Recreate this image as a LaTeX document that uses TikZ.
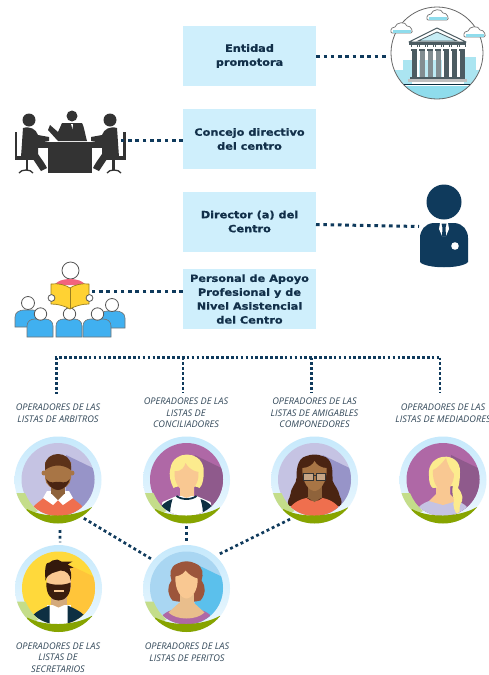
\documentclass[tikz,border=0pt]{standalone}
\usepackage{fontspec}
\setmainfont{Open Sans}
\newfontfamily\boxfont[FakeStretch=1.13,BoldFeatures={FakeBold=0.7}]{DejaVu Sans}
\definecolor{navy}{HTML}{0F3A5C}
\definecolor{boxblue}{HTML}{CFEFFC}
\definecolor{boxtxt}{HTML}{12304A}
\definecolor{lbltxt}{HTML}{33495A}
\definecolor{ringtop}{HTML}{C6E9FC}
\definecolor{ringbot}{HTML}{EDF8FE}
\definecolor{gdark}{HTML}{87A400}
\definecolor{glight}{HTML}{C4DD8A}
\definecolor{lav}{HTML}{C5C3E3}
\definecolor{lavd}{HTML}{9794C8}
\definecolor{purp}{HTML}{AF68A6}
\definecolor{purpd}{HTML}{8F5A8C}
\definecolor{salmon}{HTML}{EF6F4E}
\definecolor{skin}{HTML}{F9C892}
\definecolor{skind}{HTML}{A87545}
\definecolor{blond}{HTML}{FCEB8E}
\definecolor{dkbrown}{HTML}{4A2412}
\definecolor{jacket}{HTML}{0D2F42}
\definecolor{mtgray}{HTML}{333333}
\definecolor{bldg}{HTML}{8FDCEC}
\definecolor{tmpl}{HTML}{4C5C62}
\definecolor{aud}{HTML}{40B0F0}
\definecolor{bookc}{HTML}{FFD233}
\definecolor{yelbg}{HTML}{FFD93B}
\definecolor{yelsh}{HTML}{FFC53A}
\definecolor{blubg}{HTML}{A9D6F2}
\definecolor{blush}{HTML}{5BC0EC}
\definecolor{redhair}{HTML}{9C553B}
\definecolor{neckc}{HTML}{E9BE8C}
\definecolor{pinkc}{HTML}{F2637E}
\tikzset{
  infobox/.style={fill=boxblue,minimum width=133pt,minimum height=60pt,align=center,inner sep=0pt,
    text=boxtxt,font=\boxfont\bfseries\fontsize{10}{14}\selectfont},
  oplabel/.style={align=center,inner sep=0pt,text=lbltxt,font=\itshape\fontsize{9.2}{11.7}\selectfont},
  avnode/.style={circle,minimum size=92pt,inner sep=0pt},
  iconnode/.style={inner sep=0pt},
  linkw/.style={draw=navy,line width=3pt,dash pattern=on 3.6pt off 3.7pt},
  linkn/.style={draw=navy,line width=2.6pt,dash pattern=on 2.6pt off 2.3pt},
  linkd/.style={draw=navy,line width=2.7pt,dash pattern=on 2.9pt off 2.9pt},
  headw/.style={fill=white,draw=black!65,line width=.8pt},
}
\newcommand{\avatarfig}[6]{%
  \node[avnode] (#1) at (#2,#3) {};
  \begin{scope}[shift={(#2,#3)}]
    \shade[top color=ringtop,bottom color=ringbot] (0,0) circle (43.5pt);
    \begin{scope}
      \clip (0,-0.5) circle (36.5pt);
      \fill[#4] (-40,-40) rectangle (40,40);
      \fill[#5] (8,-25) -- (37,-11) -- (40,40) -- (8,40) -- cycle;
      #6
    \end{scope}
    \begin{scope}
      \clip (0,0) circle (43.5pt);
      \fill[glight] (-44,13) -- (-33,13) .. controls (-30,20) and (-26,26) .. (-20,31) -- (-30,36) -- (-46,30) -- cycle;
      \fill[gdark] (-31,29) .. controls (-15,38) and (15,38) .. (34,27) -- (50,60) -- (-50,60) -- cycle;
    \end{scope}
  \end{scope}}
\begin{document}
\begin{tikzpicture}[x=1pt,y=-1pt]
\useasboundingbox (0,0) rectangle (488,675);
\fill[white] (0,0) rectangle (488,675);

% boxes
\node[infobox] (entidad) at (249.5,56) {Entidad\\promotora};
\node[infobox] (concejo) at (249.5,139) {Concejo directivo\\del centro};
\node[infobox] (director) at (249.5,221.5) {Director (a) del\\Centro};
\node[infobox,font=\boxfont\bfseries\fontsize{10}{13.9}\selectfont] (personal) at (249.5,299) {Personal de Apoyo\\Profesional y de\\Nivel Asistencial\\del Centro};

% temple icon
\node[iconnode,circle,minimum size=92pt] (temple) at (437,53) {};
\begin{scope}
  \clip (437,53) circle (46pt);
  \fill[bldg!75] (393,70) rectangle (405,84);
  \fill[bldg!75] (403,60) rectangle (412,84);
  \fill[bldg!75] (464,57) rectangle (476,84);
  \fill[bldg!75] (474,70) rectangle (483,84);
  \fill[bldg] (385,86) rectangle (490,100);
\end{scope}
\draw[black!60,line width=.8pt] (437,53) circle (46pt);
\fill[white] (409,42) rectangle (466,50);
\draw[tmpl,line width=1pt,fill=white,line join=round] (409,42) -- (437,28) -- (466,42) -- cycle;
\draw[tmpl,line width=.8pt,fill=bldg!50] (418,41) -- (437,32) -- (457,41) -- cycle;
\fill[tmpl] (409,42) rectangle (466,44.5);
\foreach \cx in {414,422,430,438,446,454,462}{
  \fill[tmpl] (\cx-3.5,44.5) rectangle (\cx+3.5,46.5);
  \fill[white] (\cx-2.5,45) rectangle (\cx+2.5,48);
  \fill[tmpl] (\cx-3,49) rectangle (\cx+3,51);
  \fill[tmpl] (\cx-2.5,51) rectangle (\cx+2.5,77);
}
\fill[bldg!60] (419,60) rectangle (442,77);
\foreach \cx in {422,430,438}{\fill[tmpl!70] (\cx-2.5,51) rectangle (\cx+2.5,77);}
\fill[tmpl] (410,77) rectangle (465,79);
\fill[black!25] (408,79) rectangle (467,82);
\draw[jacket,line width=1pt] (404,84.5) -- (470,84.5);
\foreach \clx/\cly in {438/15,402/28,475/32}{
  \draw[black!55,line width=.7pt,fill=white,line join=round] (\clx-10,\cly+5) .. controls (\clx-12,\cly+5) and (\clx-12,\cly-1) .. (\clx-7,\cly-1) .. controls (\clx-6,\cly-6) and (\clx+4,\cly-7) .. (\clx+5,\cly-2) .. controls (\clx+9,\cly-3) and (\clx+12,\cly+5) .. (\clx+9,\cly+5) -- cycle;
  \fill[bldg] (\clx-9,\cly+2) rectangle (\clx+9,\cly+4.6);
}

% meeting icon
\node[iconnode,minimum width=110pt,minimum height=64pt] (meeting) at (70,141) {};
\begin{scope}[mtgray]
  \fill (29,120) circle (6.5pt);
  \fill (72,116) circle (5.5pt);
  \fill (110,120) circle (6.5pt);
  \fill (62,123) -- (82,123) .. controls (84,126) and (85,134) .. (87,141) -- (58,141) -- (48,130) -- (50,125) -- (58,132) -- cycle;
  \fill[white] (71,124) -- (73,124) -- (72.5,129) -- cycle;
  \foreach \m in {0,1}{
    \begin{scope}[shift={(\m*140,0)},xscale={1-2*\m}]
      \fill (23,128) .. controls (30,126) and (36,129) .. (38,135) -- (49,137) -- (49,141) -- (38,143) -- (38,154) .. controls (42,160) and (44,162) .. (47,168) -- (41,171) -- (33,159) -- (21,157) -- cycle;
      \fill (14.5,132) rectangle (17,160);
      \fill (17,156) rectangle (34,160);
      \fill (25.5,160) rectangle (28,170);
      \draw[line width=1.3pt] (19,173) .. controls (21,169) and (31,169) .. (33,173);
    \end{scope}
  }
  \fill (38,142) rectangle (102,148);
  \fill (48,148) rectangle (92,173);
\end{scope}

% director icon
\node[iconnode,minimum width=48pt,minimum height=84pt] (person) at (444,225) {};
\fill[navy] (444,202) circle (17.5pt);
\fill[navy] (433,223) -- (455,223) .. controls (463,224) and (468,230) .. (468,238) -- (468,262) .. controls (462,269) and (426,269) .. (420,262) -- (420,238) .. controls (420,230) and (425,224) .. (433,223) -- cycle;
\fill[white] (440,223) -- (448,223) -- (449,229) -- (446,236) -- (442,236) -- (439,229) -- cycle;
\fill[navy] (441.5,223.5) -- (446.5,223.5) -- (445.5,228) -- (446,236) -- (442,236) -- (442.5,228) -- cycle;
\fill[white] (455,246) circle (3.8pt);

% reader icon
\node[iconnode,minimum width=110pt,minimum height=76pt] (reader) at (70,300) {};
\fill[aud,draw=black!55,line width=.6pt] (15,327) -- (15,317) .. controls (15,312) and (20,310) .. (24,310) -- (33,310) .. controls (38,310) and (40,314) .. (40,318) -- (40,327) -- cycle;
\fill[aud,draw=black!55,line width=.6pt] (125,328) -- (125,318) .. controls (125,313) and (120,311) .. (116,311) -- (107,311) .. controls (102,311) and (100,315) .. (100,319) -- (100,328) -- cycle;
\draw[headw] (28,303) circle (6.5pt);
\draw[headw] (112,305) circle (6.5pt);
\foreach \ax/\aw in {40/13,69/13,97/14}{
  \fill[aud,draw=black!55,line width=.6pt] (\ax-\aw,337) -- (\ax-\aw,326) .. controls (\ax-\aw,321) and (\ax-\aw+4,319) .. (\ax-\aw+8,319) -- (\ax+\aw-8,319) .. controls (\ax+\aw-4,319) and (\ax+\aw,321) .. (\ax+\aw,326) -- (\ax+\aw,337) -- cycle;
  \draw[headw] (\ax+.5,314) circle (6.2pt);
}
\draw[headw] (70.5,270.5) circle (8.5pt);
\fill[pinkc] (55,285) .. controls (58,277) and (82,277) .. (85,285) -- cycle;
\draw[bookc!60!black,line width=.7pt,fill=bookc,line join=round] (51,284) .. controls (58,283) and (66,285) .. (70,288) .. controls (74,285) and (82,283) .. (89,284) -- (89,304) .. controls (82,304) and (75,306) .. (70,309) .. controls (65,306) and (58,304) .. (51,304) -- cycle;
\draw[bookc!60!black,line width=.7pt] (70,288) -- (70,309);
\draw[headw] (51.5,298) circle (3.4pt);
\draw[headw] (89.5,298) circle (3.4pt);

% avatars
\avatarfig{a1}{58}{480}{lav}{lavd}{
  \fill[salmon] (-30,37) .. controls (-28,26) and (-18,22) .. (-11,15) -- (11,15) .. controls (18,22) and (28,26) .. (30,37) -- cycle;
  \fill[white] (-11,11) -- (11,11) -- (15,18) -- (5,25) -- (0,20) -- (-5,25) -- (-15,18) -- cycle;
  \fill[skind!85!black] (-7,6) rectangle (7,14);
  \fill[skind!85!black] (-7,13) -- (7,13) -- (0,20) -- cycle;
  \fill[skind] (-14,-7) circle (2.5pt) (14,-7) circle (2.5pt);
  \fill[skind] (-13,-18) -- (13,-18) -- (13,-2) .. controls (13,5) and (5,10) .. (0,10) .. controls (-5,10) and (-13,5) .. (-13,-2) -- cycle;
  \fill[dkbrown!85!brown] (-13,-14) .. controls (-13,-30) and (13,-30) .. (13,-14) -- (13,-10) .. controls (5,-16) and (-5,-16) .. (-13,-10) -- cycle;
  \fill[dkbrown] (-12,-1) .. controls (-7,5) and (-3,1) .. (0,2) .. controls (3,1) and (7,5) .. (12,-1) .. controls (9,8) and (3,10) .. (0,10) .. controls (-3,10) and (-9,8) .. (-12,-1) -- cycle;
}
\avatarfig{a2}{186.5}{480}{purp}{purpd}{
  \fill[white] (-27,37) -- (-24,22) -- (-10,16) -- (10,16) -- (24,22) -- (27,37) -- cycle;
  \fill[jacket] (-30,37) .. controls (-28,26) and (-22,22) .. (-14,19) .. controls (-16,26) and (-17,32) .. (-16,37) -- cycle;
  \fill[jacket] (30,37) .. controls (28,26) and (22,22) .. (14,19) .. controls (16,26) and (17,32) .. (16,37) -- cycle;
  \draw[jacket,line width=1.8pt] (-10,16) .. controls (-5,20) and (5,20) .. (10,16);
  \fill[skin] (-7,5) rectangle (7,16);
  \fill[skin] (-7,15) -- (7,15) -- (0,18) -- cycle;
  \fill[blond] (-16,-12) .. controls (-18,-4) and (-16,2) .. (-13,8) .. controls (-9,5) and (9,5) .. (13,8) .. controls (16,6) and (18,-4) .. (17,-12) .. controls (14,-30) and (-13,-30) .. (-16,-12) -- cycle;
  \fill[skin] (-12,-9) .. controls (-4,-8) and (-2,-14) .. (-1,-17) .. controls (2,-12) and (6,-9) .. (12,-8) .. controls (13,4) and (5,12) .. (0,12) .. controls (-5,12) and (-13,4) .. (-12,-9) -- cycle;
}
\avatarfig{a3}{314.5}{480}{lav}{lavd}{
  \fill[dkbrown] (-8,-24) .. controls (-18,-22) and (-18,-8) .. (-18,-2) .. controls (-18,4) and (-23,6) .. (-24,14) .. controls (-25,20) and (-28,20) .. (-26,26) -- (26,26) .. controls (29,20) and (25,18) .. (24,12) .. controls (22,6) and (17,3) .. (18,-3) .. controls (18,-10) and (18,-22) .. (8,-24) .. controls (3,-26) and (-3,-26) .. (-8,-24) -- cycle;
  \fill[salmon] (-28,37) .. controls (-27,24) and (-14,19) .. (-8,18) .. controls (-4,22) and (4,22) .. (8,18) .. controls (14,19) and (27,24) .. (28,37) -- cycle;
  \fill[skind!85!black] (-7,6) rectangle (7,18);
  \fill[skind!85!black] (-8,17) -- (8,17) -- (0,22) -- cycle;
  \fill[skind] (-12,-12) .. controls (-6,-12) and (-1,-16) .. (0,-19) .. controls (2,-15) and (7,-12) .. (12,-12) .. controls (13,3) and (5,11) .. (0,11) .. controls (-5,11) and (-13,3) .. (-12,-12) -- cycle;
  \draw[black!80,line width=.9pt,fill=white,fill opacity=.35] (-11,-7) rectangle (-1.5,0);
  \draw[black!80,line width=.9pt,fill=white,fill opacity=.35] (1.5,-7) rectangle (11,0);
  \draw[black!80,line width=.9pt] (-1.5,-5) -- (1.5,-5);
}
\avatarfig{a4}{443}{480}{purp}{purpd}{
  \fill[lav] (-28,37) .. controls (-27,26) and (-20,23) .. (-11,20) -- (11,20) .. controls (20,23) and (27,26) .. (28,37) -- cycle;
  \fill[skin] (-7,4) rectangle (7,16);
  \fill[skin] (-14,21) -- (-7,14) -- (7,14) -- (14,21) -- (0,25) -- cycle;
  \fill[blond] (-14,-4) .. controls (-17,-28) and (18,-30) .. (17,-8) .. controls (17,0) and (16,5) .. (15,8) .. controls (20,14) and (21,20) .. (17,25) .. controls (16,30) and (17,33) .. (16,38) .. controls (12,32) and (9,26) .. (11,20) .. controls (9,14) and (9,9) .. (10,6) -- (-10,8) .. controls (-13,6) and (-14,2) .. (-14,-4) -- cycle;
  \fill[skin] (-10,-10) .. controls (-5,-12) and (0,-18) .. (3,-22) .. controls (5,-14) and (9,-8) .. (11,-6) .. controls (11,4) and (5,11) .. (0,11) .. controls (-5,11) and (-11,2) .. (-10,-10) -- cycle;
}
\avatarfig{a5}{58.5}{588.5}{yelbg}{yelsh}{
  \fill[white] (-12,37) rectangle (12,16);
  \fill[jacket] (-30,33) .. controls (-26,24) and (-16,20) .. (-9,17) -- (-9,38) -- (-30,38) -- cycle;
  \fill[jacket] (30,33) .. controls (26,24) and (16,20) .. (9,17) -- (9,38) -- (30,38) -- cycle;
  \fill[skin!85!black] (-8,6) rectangle (8,16);
  \fill[skin!85!black] (-9,15) -- (9,15) -- (0,19) -- cycle;
  \fill[skin] (-12,-20) rectangle (12,0);
  \fill[dkbrown!80!black] (-12,-6) .. controls (-6,-3) and (6,-3) .. (12,-6) .. controls (13,7) and (6,12) .. (0,12) .. controls (-6,12) and (-13,7) .. (-12,-6) -- cycle;
  \fill[skin] (-5,1) rectangle (5,3.5);
  \fill[dkbrown!70!black] (-13,-8) .. controls (-14,-20) and (-13,-27) .. (-9,-26) -- (-6,-28) -- (-1,-29) -- (3,-27) -- (14,-27) -- (9,-24) -- (15,-21) -- (11,-20) .. controls (13,-16) and (13,-12) .. (12,-8) .. controls (12,-14) and (8,-18) .. (2,-18) .. controls (-3,-16) and (-11,-16) .. (-13,-8) -- cycle;
}
\avatarfig{a6}{186.5}{588.5}{blubg}{blush}{
  \fill[purp] (-28,35) .. controls (-26,24) and (-16,22) .. (-10,20) -- (10,20) .. controls (16,22) and (26,24) .. (28,35) -- (28,40) -- (-28,40) -- cycle;
  \fill[neckc] (-18,24) -- (-7,14) -- (7,14) -- (18,24) .. controls (10,32) and (-10,32) .. (-18,24) -- cycle;
  \fill[redhair] (-9,-25) .. controls (-17,-22) and (-17,-14) .. (-15,-8) .. controls (-20,-1) and (-19,6) .. (-14,12) .. controls (-7,14) and (7,14) .. (14,12) .. controls (19,6) and (20,-1) .. (15,-8) .. controls (17,-14) and (17,-22) .. (9,-25) .. controls (3,-28) and (-3,-28) .. (-9,-25) -- cycle;
  \fill[neckc] (-7,5) rectangle (7,16);
  \fill[skin] (-11,-12) .. controls (-5,-13) and (-2,-16) .. (-1,-18) .. controls (2,-14) and (7,-11) .. (11,-10) .. controls (12,2) and (5,10) .. (0,10) .. controls (-5,10) and (-12,2) .. (-11,-12) -- cycle;
}

% labels
\node[oplabel] (l1) at (58,413) {OPERADORES DE LAS\\LISTAS DE ARBITROS};
\node[oplabel] (l2) at (186,413) {OPERADORES DE LAS\\LISTAS DE\\CONCILIADORES};
\node[oplabel] (l3) at (314.5,413) {OPERADORES DE LAS\\LISTAS DE AMIGABLES\\COMPONEDORES};
\node[oplabel] (l4) at (443,413) {OPERADORES DE LAS\\LISTAS DE MEDIADORES};
\node[oplabel] (l5) at (58,657.5) {OPERADORES DE LAS\\LISTAS DE\\SECRETARIOS};
\node[oplabel] (l6) at (187,652.5) {OPERADORES DE LAS\\LISTAS DE PERITOS};

% connectors
\coordinate (e1) at (388,56.5);
\draw[linkw] (entidad.east |- e1) -- (e1);
\coordinate (c1) at (120,140);
\draw[linkw] (concejo.west |- c1) -- (c1);
\coordinate (d1) at (316,224.5);
\coordinate (d2) at (419,226.5);
\draw[linkw] (d1) -- (d2);
\coordinate (p1) at (90,291.5);
\draw[linkw] (personal.west |- p1) -- (p1);
\coordinate (b1) at (54.5,357.5);
\coordinate (b0) at (56.5,357.5);
\coordinate (b2) at (183,357.5);
\coordinate (b3) at (311.5,357.5);
\coordinate (b4) at (440,357.5);
\coordinate (v1) at (56.5,395);
\coordinate (v2) at (183,392);
\coordinate (v3) at (311.5,393);
\coordinate (v4) at (440,392);
\coordinate (v5) at (60,530);
\draw[linkn] (b1) -- (b4);
\draw[linkn] (b0) -- (v1);
\draw[linkn] (b2) -- (v2);
\draw[linkn] (b3) -- (v3);
\draw[linkn] (b4) -- (v4);
\draw[linkd] (a1.-56) -- (a6.140);
\draw[linkd] (a3.-122) -- (a6.47);
\draw[linkd] (a2.-90) -- (a6.90);
\draw[linkd] (v5) -- (a5.88);
\end{tikzpicture}
\end{document}
